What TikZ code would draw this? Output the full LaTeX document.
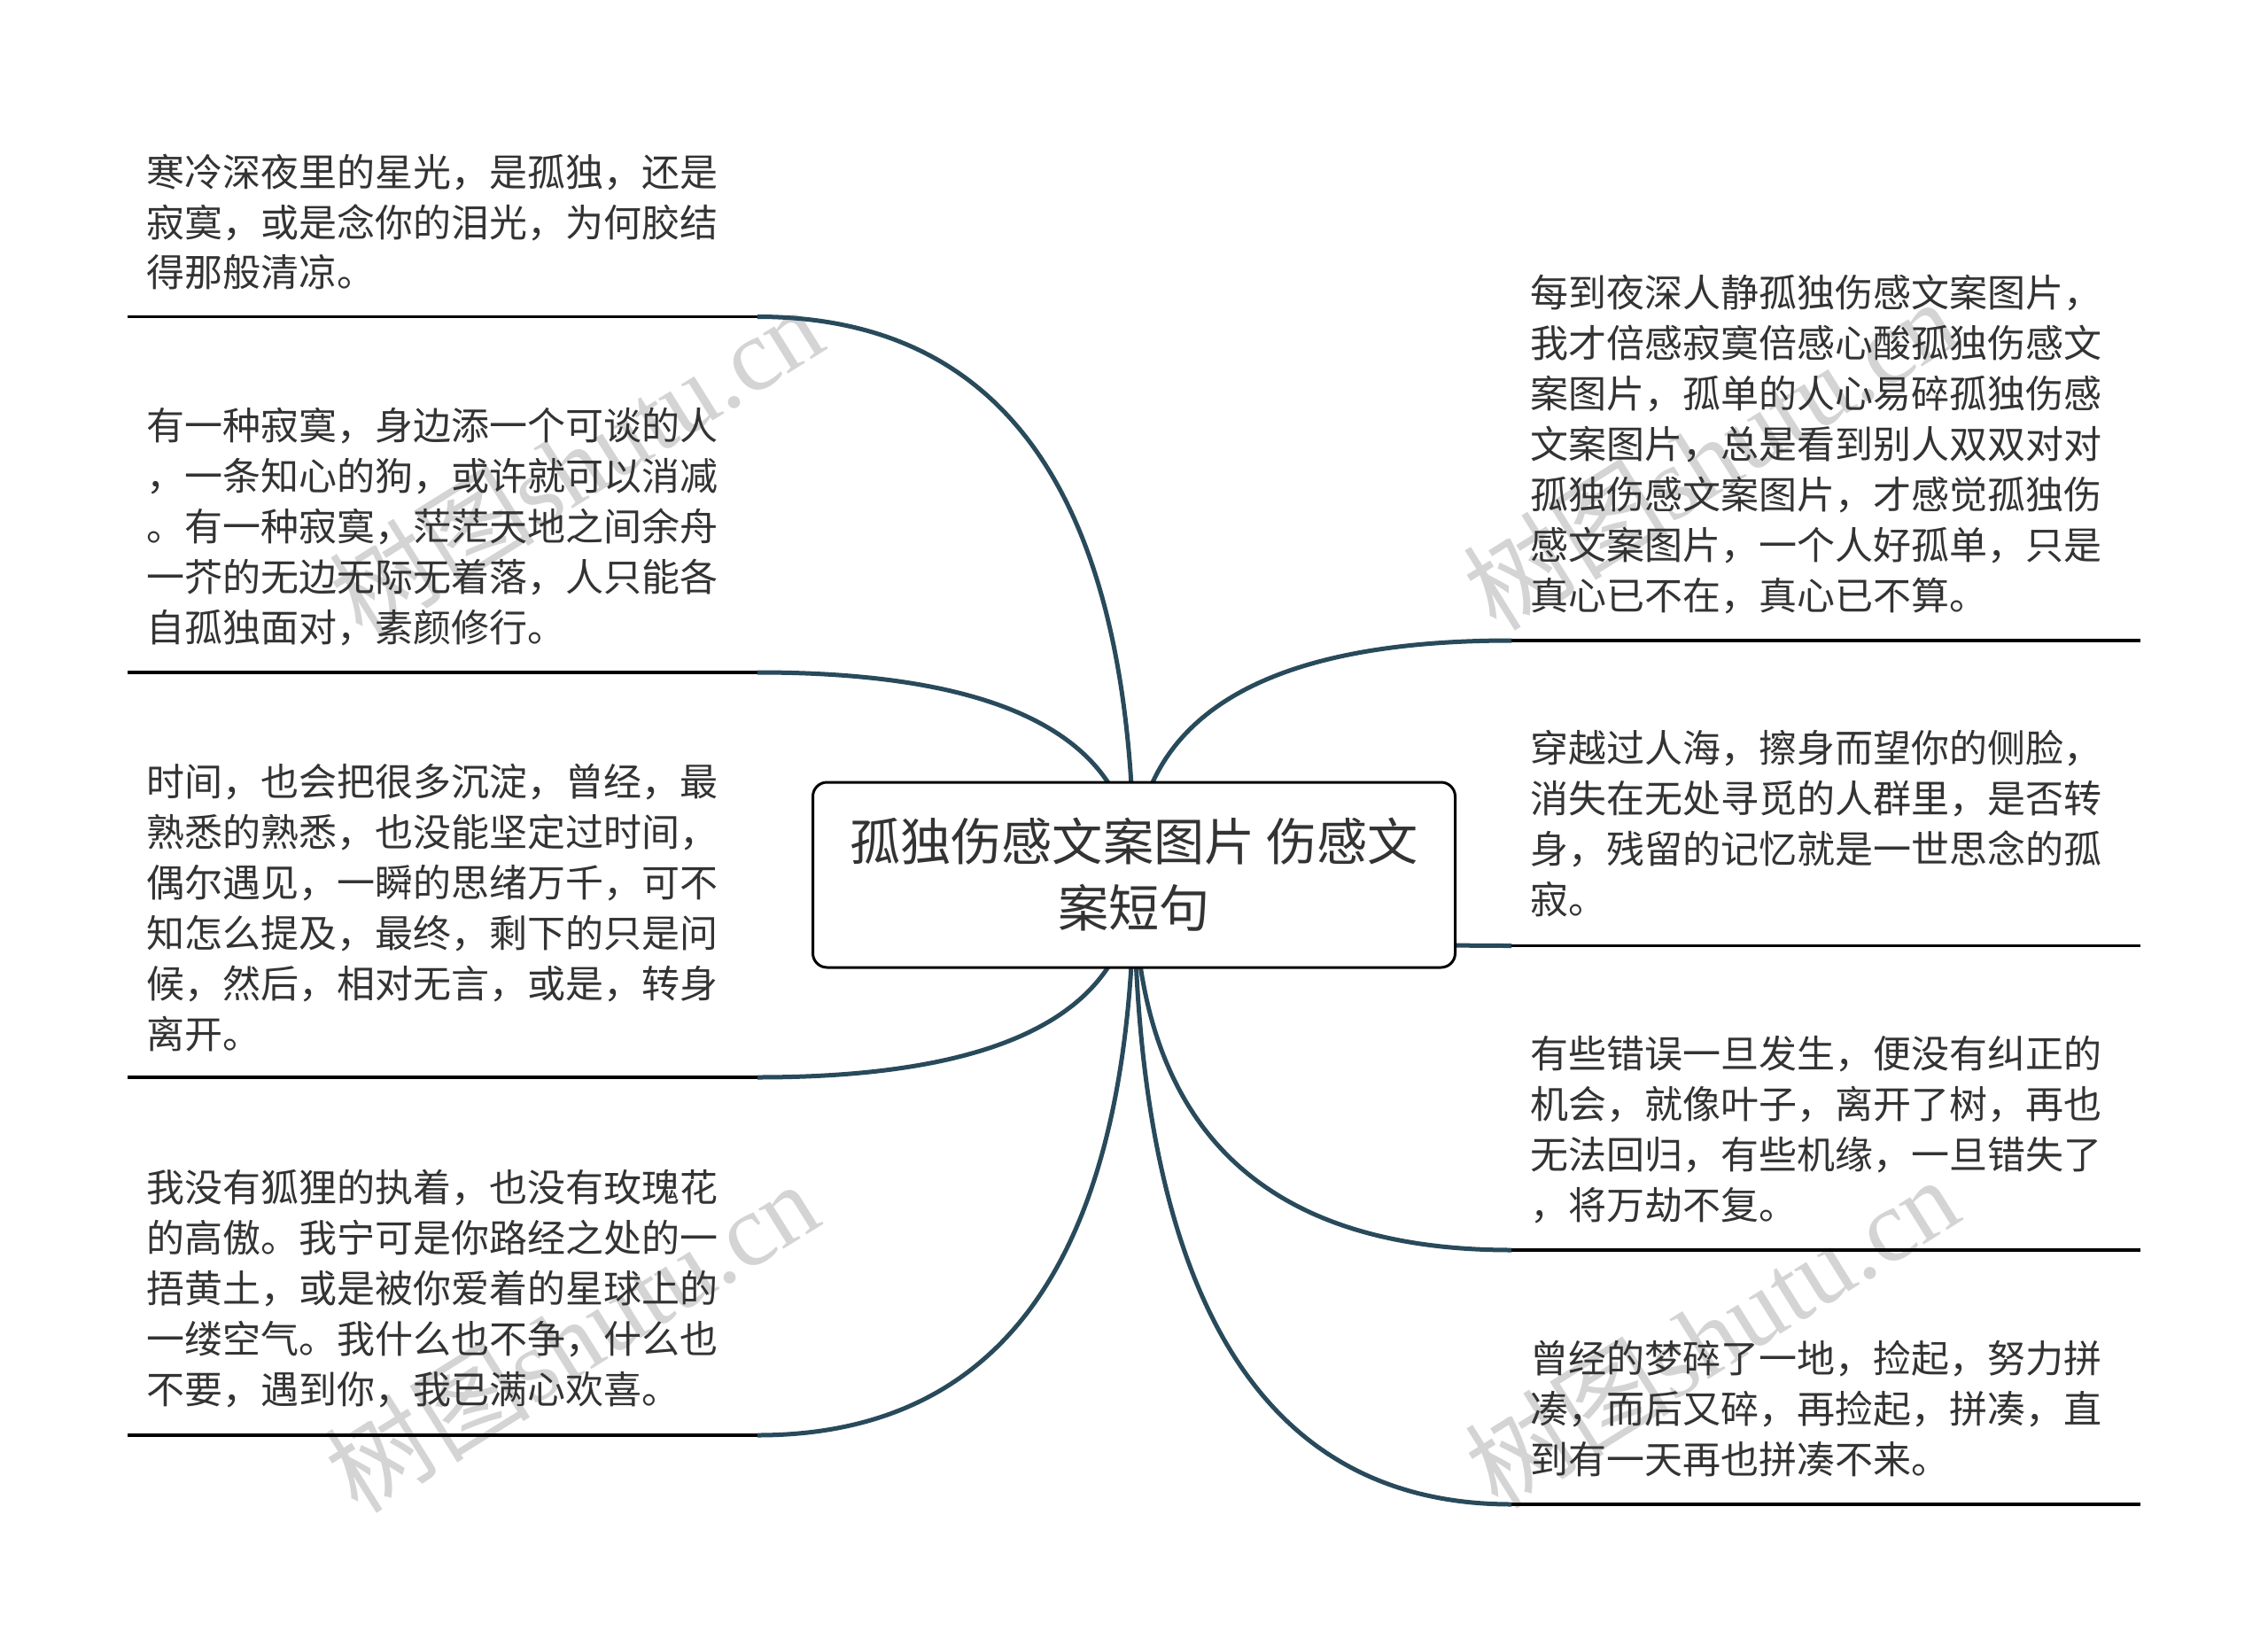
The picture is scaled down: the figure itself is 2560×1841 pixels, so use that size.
\documentclass[tikz,border=0pt]{standalone}
\usepackage{fontspec}
\setmainfont{Noto Sans CJK SC}
\newfontfamily\wmlatin{Liberation Serif}
\usetikzlibrary{calc,backgrounds}
\definecolor{connc}{HTML}{284A5B}
\definecolor{txtc}{HTML}{333333}
\definecolor{wmc}{HTML}{D4D4D4}
\tikzset{
  conn/.style={draw=connc, line width=2.5pt},
  uline/.style={draw=black, line width=1.6pt},
  txt/.style={anchor=base west, inner sep=0pt, text=txtc,
    font=\fontsize{21.5pt}{28.5pt}\selectfont},
  rootbox/.style={draw=black, line width=1.5pt, rounded corners=8pt, fill=white,
    minimum width=362.5pt, minimum height=104.5pt, inner sep=0pt, text=txtc,
    font=\fontsize{28.6pt}{37.5pt}\selectfont},
  wm/.style={text=wmc, inner sep=0pt, rotate=32,
    font=\fontsize{58pt}{58pt}\selectfont}
}
\begin{document}
\begin{tikzpicture}[x=0.5pt,y=-0.5pt]
\useasboundingbox (0,0) rectangle (2560,1841);

% root
\node[rootbox] (root) at (1280,987.5)
  {\raisebox{-3pt}[\height][\depth]{\begin{tabular}{@{}c@{}}孤独伤感文案图片 伤感文\\案短句\end{tabular}}};

% left texts
\node[txt] (tl1) at (165,210) {\begin{tabular}[t]{@{}l@{}}
寒冷深夜里的星光，是孤独，还是\\
寂寞，或是念你的泪光，为何胶结\\
得那般清凉。\end{tabular}};
\node[txt] (tl2) at (165,496) {\begin{tabular}[t]{@{}l@{}}
有一种寂寞，身边添一个可谈的人\\
，一条知心的狗，或许就可以消减\\
。有一种寂寞，茫茫天地之间余舟\\
一芥的无边无际无着落，人只能各\\
自孤独面对，素颜修行。\end{tabular}};
\node[txt] (tl3) at (165,898) {\begin{tabular}[t]{@{}l@{}}
时间，也会把很多沉淀，曾经，最\\
熟悉的熟悉，也没能坚定过时间，\\
偶尔遇见，一瞬的思绪万千，可不\\
知怎么提及，最终，剩下的只是问\\
候，然后，相对无言，或是，转身\\
离开。\end{tabular}};
\node[txt] (tl4) at (165,1356) {\begin{tabular}[t]{@{}l@{}}
我没有狐狸的执着，也没有玫瑰花\\
的高傲。我宁可是你路经之处的一\\
捂黄土，或是被你爱着的星球上的\\
一缕空气。我什么也不争，什么也\\
不要，遇到你，我已满心欢喜。\end{tabular}};

% right texts
\node[txt] (tr1) at (1727,346) {\begin{tabular}[t]{@{}l@{}}
每到夜深人静孤独伤感文案图片，\\
我才倍感寂寞倍感心酸孤独伤感文\\
案图片，孤单的人心易碎孤独伤感\\
文案图片，总是看到别人双双对对\\
孤独伤感文案图片，才感觉孤独伤\\
感文案图片，一个人好孤单，只是\\
真心已不在，真心已不算。\end{tabular}};
\node[txt] (tr2) at (1727,860) {\begin{tabular}[t]{@{}l@{}}
穿越过人海，擦身而望你的侧脸，\\
消失在无处寻觅的人群里，是否转\\
身，残留的记忆就是一世思念的孤\\
寂。\end{tabular}};
\node[txt] (tr3) at (1727,1205) {\begin{tabular}[t]{@{}l@{}}
有些错误一旦发生，便没有纠正的\\
机会，就像叶子，离开了树，再也\\
无法回归，有些机缘，一旦错失了\\
，将万劫不复。\end{tabular}};
\node[txt] (tr4) at (1727,1549) {\begin{tabular}[t]{@{}l@{}}
曾经的梦碎了一地，捡起，努力拼\\
凑，而后又碎，再捡起，拼凑，直\\
到有一天再也拼凑不来。\end{tabular}};

% underline end points
\coordinate (l1) at (855,357.5);  \coordinate (l1s) at (144,357.5);
\coordinate (l2) at (855,759);    \coordinate (l2s) at (144,759);
\coordinate (l3) at (855,1216);   \coordinate (l3s) at (144,1216);
\coordinate (l4) at (855,1620);   \coordinate (l4s) at (144,1620);
\coordinate (r1) at (1706,723);   \coordinate (r1s) at (2416,723);
\coordinate (r2) at (1706,1067.5);\coordinate (r2s) at (2416,1067.5);
\coordinate (r3) at (1706,1411);  \coordinate (r3s) at (2416,1411);
\coordinate (r4) at (1706,1698);  \coordinate (r4s) at (2416,1698);

\foreach \e in {l1,l2,l3,l4,r1,r2,r3,r4}
  \draw[uline] (\e s) -- (\e);

\begin{scope}[on background layer]
  % watermarks
  \node[wm] (wm1) at (650,520)  {树图{\wmlatin shutu.cn}};
  \node[wm] (wm2) at (1930,512) {树图{\wmlatin shutu.cn}};
  \node[wm] (wm3) at (645,1508) {树图{\wmlatin shutu.cn}};
  \node[wm] (wm4) at (1932,1503){树图{\wmlatin shutu.cn}};
  % connectors (quadratic curves from the root centre)
  \foreach \e in {l1,l2,l3,l4,r1,r2,r3,r4}
    \draw[conn] (root.center)
      .. controls ($(root.center)!2/3!(root.center|-\e)$)
          and ($(\e)!2/3!(root.center|-\e)$) .. (\e);
\end{scope}
\end{tikzpicture}
\end{document}
